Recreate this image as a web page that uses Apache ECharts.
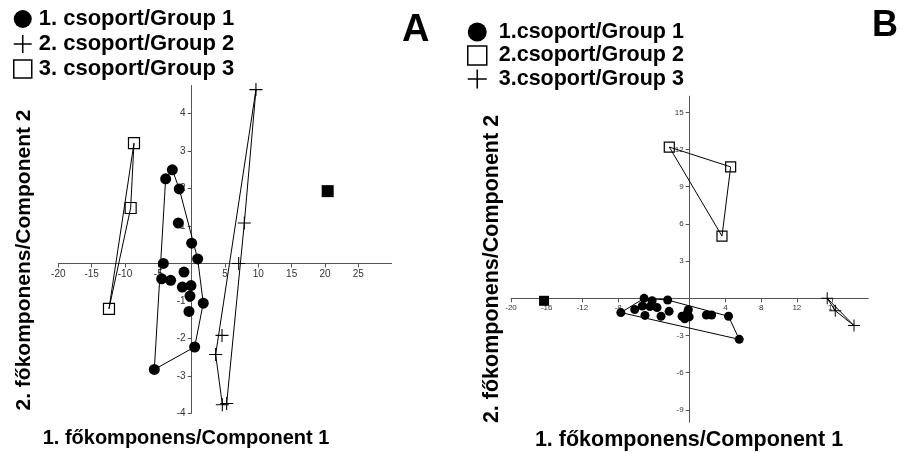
<!DOCTYPE html>
<html>
<head>
<meta charset="utf-8">
<script src="https://cdn.jsdelivr.net/npm/echarts@6/dist/echarts.min.js"></script>
<style>
    html, body { margin: 0; padding: 0; background: #fff; }
    #chart { width: 900px; height: 453px; }
</style>
</head>
<body>
<div id="chart"></div>
<script>
    // panel A - principal component scores
    var namesA = ['1. csoport/Group 1', '2. csoport/Group 2', '3. csoport/Group 3'];
    var groupA1 = [[-3.9, 2.26], [-2.9, 2.5], [-1.86, 1.99], [-2.0, 1.08], [0, 0.54], [0.9, 0.12], [-4.25, 0],
        [-4.5, -0.41], [-3.15, -0.45], [-1.15, -0.23], [-1.4, -0.63], [-0.1, -0.59], [-0.25, -0.87],
        [1.74, -1.06], [-0.4, -1.28], [0.45, -2.23], [-5.6, -2.83]];
    var groupA2 = [[9.64, 4.64], [7.9, 1.08], [7.05, 0], [4.55, -1.92], [3.6, -2.43], [4.6, -3.77], [5.25, -3.74]];
    var groupA3 = [[-8.65, 3.21], [-9.15, 1.48], [-12.4, -1.21]];
    var extraA = [[20.4, 1.93]];
    var ticksAx = [-20, -15, -10, -5, 5, 10, 15, 20, 25];
    var ticksAy = [-4, -3, -2, -1, 1, 2, 3, 4];

    // panel B
    var namesB = ['1.csoport/Group 1', '2.csoport/Group 2', '3.csoport/Group 3'];
    var groupB1 = [[-7.7, -1.15], [-5.1, 0], [-4.2, -0.19], [-2.46, -0.14], [-6.15, -0.9], [-5.3, -0.62],
        [-4.45, -0.67], [-3.65, -0.75], [-2.3, -1.05], [-5.0, -1.38], [-3.2, -1.45], [-0.85, -1.45],
        [-0.27, -1.2], [-0.15, -0.92], [-0.55, -1.65], [-0.05, -1.5], [1.87, -1.35], [2.46, -1.35],
        [4.35, -1.45], [5.55, -3.31]];
    var groupB2 = [[-2.28, 12.2], [4.59, 10.6], [3.62, 5.02]];
    var groupB3 = [[15.4, 0], [16.3, -1.0], [18.4, -2.2]];
    var extraB = [[-16.3, -0.2]];
    var ticksBx = [-20, -16, -12, -8, -4, 4, 8, 12, 16];
    var ticksBy = [-9, -6, -3, 3, 6, 9, 12, 15];

    var plusIcon = 'path://M0,5.5H12V6.5H0Z M5.5,0H6.5V12H5.5Z';
    var font = 'Liberation Sans, Arial, sans-serif';

    var grids = [
        { left: 58.3, top: 85.5, width: 333.4, height: 327.8 },
        { left: 511, top: 96.2, width: 357.3, height: 326.1 }
    ];

    // convex hull (monotone chain), closed
    function hull(pts) {
        var p = pts.slice().sort(function (a, b) { return a[0] - b[0] || a[1] - b[1]; });
        function cross(o, a, b) { return (a[0] - o[0]) * (b[1] - o[1]) - (a[1] - o[1]) * (b[0] - o[0]); }
        var lower = [], upper = [];
        p.forEach(function (q) {
            while (lower.length >= 2 && cross(lower[lower.length - 2], lower[lower.length - 1], q) <= 0) lower.pop();
            lower.push(q);
        });
        p.slice().reverse().forEach(function (q) {
            while (upper.length >= 2 && cross(upper[upper.length - 2], upper[upper.length - 1], q) <= 0) upper.pop();
            upper.push(q);
        });
        var h = lower.slice(0, -1).concat(upper.slice(0, -1));
        h.push(h[0]);
        return h;
    }

    // axes cross at the origin: shift each axis from the grid edge to the other axis' zero
    function valAxis(grid, dim, min, max, other, ticks, size, margin) {
        var g = grids[grid];
        var span = dim === 'x' ? g.height : g.width;
        var off = -(0 - other[0]) / (other[1] - other[0]) * span;
        return {
            type: 'value', gridIndex: grid, min: min, max: max,
            offset: off,
            splitLine: { show: false },
            axisLine: { onZero: false, lineStyle: { color: '#555', width: 1 } },
            axisTick: { customValues: ticks, length: 4, lineStyle: { color: '#555' } },
            axisLabel: { customValues: ticks, fontSize: size, margin: margin, color: '#333', fontFamily: font }
        };
    }

    function hullSeries(name, grid, pts) {
        return {
            name: name, type: 'line', xAxisIndex: grid, yAxisIndex: grid, data: hull(pts),
            symbol: 'none', silent: true, z: 2,
            lineStyle: { color: '#000', width: 1 }
        };
    }

    function dots(name, grid, pts, symbol, size, open) {
        return {
            name: name, type: 'scatter', xAxisIndex: grid, yAxisIndex: grid, data: pts,
            symbol: symbol, symbolSize: size, z: 3,
            itemStyle: open ? { color: 'rgba(0,0,0,0)', borderColor: '#000', borderWidth: 1.2, opacity: 1 }
                : { color: '#000', opacity: 1 }
        };
    }

    function legendItems(names, icons) {
        return names.map(function (n, i) {
            var item = { name: n, icon: icons[i], itemStyle: { opacity: 1 } };
            if (icons[i] === 'rect') item.itemStyle = { color: 'rgba(0,0,0,0)', borderColor: '#000', borderWidth: 1.5 };
            return item;
        });
    }

    function titleText(txt, x, y, size, rot) {
        return {
            type: 'text', x: x, y: y, rotation: rot || 0,
            style: { text: txt, fontSize: size, fontWeight: 'bold', fill: '#000', fontFamily: font, align: 'center', verticalAlign: 'middle' }
        };
    }

    var myChart = echarts.init(document.getElementById('chart'));
    myChart.setOption({
        animation: false,
        grid: grids,
        xAxis: [
            valAxis(0, 'x', -20, 30, [-4, 4.75], ticksAx, 10, 6),
            valAxis(1, 'x', -20, 20, [-10, 16.3], ticksBx, 8, 5)
        ],
        yAxis: [
            valAxis(0, 'y', -4, 4.75, [-20, 30], ticksAy, 10, 6),
            valAxis(1, 'y', -10, 16.3, [-20, 20], ticksBy, 8, 6)
        ],
        legend: [
            {
                orient: 'vertical', left: 13, top: 8, padding: 0, itemWidth: 18, itemHeight: 18, itemGap: 3,
                selectedMode: false,
                textStyle: { fontSize: 22, fontWeight: 'bold', color: '#000', fontFamily: font, padding: [0, 0, 0, 2] },
                data: legendItems(namesA, ['circle', plusIcon, 'rect'])
            },
            {
                orient: 'vertical', left: 467, top: 21, padding: 0, itemWidth: 19, itemHeight: 19, itemGap: 1.5,
                selectedMode: false,
                textStyle: { fontSize: 21.5, fontWeight: 'bold', color: '#000', fontFamily: font, padding: [0, 0, 0, 7] },
                data: legendItems(namesB, ['circle', 'rect', plusIcon])
            }
        ],
        graphic: [
            { type: 'text', left: 402, top: 12, style: { text: 'A', fontSize: 38, fontWeight: 'bold', fill: '#000', fontFamily: font } },
            { type: 'text', left: 872, top: 8, style: { text: 'B', fontSize: 36, fontWeight: 'bold', fill: '#000', fontFamily: font } },
            titleText('1. főkomponens/Component 1', 186, 438, 20),
            titleText('1. főkomponens/Component 1', 689, 440, 21.5),
            titleText('2. főkomponens/Component 2', 24, 260, 21, Math.PI / 2),
            titleText('2. főkomponens/Component 2', 492, 269, 21.5, Math.PI / 2)
        ],
        series: [
            hullSeries('hullA1', 0, groupA1),
            hullSeries('hullA2', 0, groupA2),
            hullSeries('hullA3', 0, groupA3),
            dots(namesA[0], 0, groupA1, 'circle', 11),
            dots(namesA[1], 0, groupA2, plusIcon, 13),
            dots(namesA[2], 0, groupA3, 'rect', 11, true),
            dots('extraA', 0, extraA, 'rect', 12),
            hullSeries('hullB1', 1, groupB1),
            hullSeries('hullB2', 1, groupB2),
            hullSeries('hullB3', 1, groupB3),
            dots(namesB[0], 1, groupB1, 'circle', 9),
            dots(namesB[1], 1, groupB2, 'rect', 10, true),
            dots(namesB[2], 1, groupB3, plusIcon, 12),
            dots('extraB', 1, extraB, 'rect', 10)
        ]
    });
</script>
</body>
</html>
